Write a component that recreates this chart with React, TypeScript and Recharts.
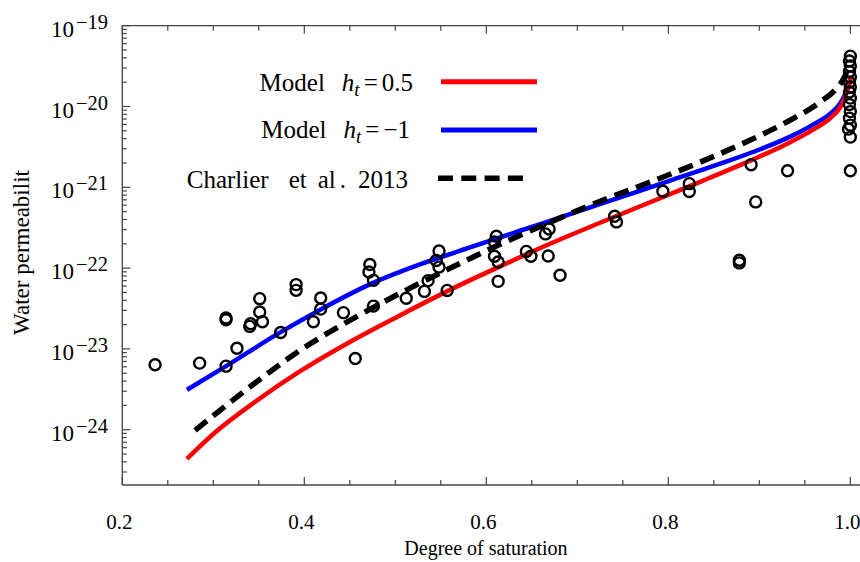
import { ComposedChart, Line, Scatter, XAxis, YAxis, Legend } from 'recharts'

// degree of saturation ticks (major every 0.2, minor every 0.05)
const satTicks = [0.2, 0.25, 0.3, 0.35, 0.4, 0.45, 0.5, 0.55, 0.6, 0.65, 0.7, 0.75, 0.8, 0.85, 0.9, 0.95, 1.0]
const satDomain = [0.2, 1.015]

// log axis: decades and minor mantissas
const decades = [-25, -24, -23, -22, -21, -20, -19]
const mantissas = [1, 2, 3, 4, 5, 6, 7, 8, 9]
const permMin = 2.07e-25
const permMax = 1e-19

// Model h_t = 0.5  [saturation, permeability]
const modelHalf = [
  [0.271, 4.36e-25], [0.3, 8.85e-25], [0.348, 2.3e-24], [0.395, 5.26e-24], [0.45, 1.22e-23],
  [0.505, 2.6e-23], [0.56, 5.38e-23], [0.615, 1.05e-22], [0.67, 2.0e-22], [0.725, 3.64e-22],
  [0.78, 6.53e-22], [0.835, 1.17e-21], [0.89, 2.14e-21], [0.934, 3.62e-21], [0.961, 5.32e-21],
  [0.978, 7.18e-21], [0.989, 9.84e-21], [0.995, 1.38e-20], [0.9986, 1.9e-20], [1.0, 2.25e-20],
]

// Model h_t = -1
const modelMinusOne = [
  [0.271, 3.12e-24], [0.314, 6.12e-24], [0.373, 1.59e-23], [0.417, 3.04e-23], [0.472, 6.3e-23],
  [0.527, 1.11e-22], [0.582, 1.8e-22], [0.637, 2.9e-22], [0.692, 4.65e-22], [0.747, 7.5e-22],
  [0.802, 1.21e-21], [0.857, 1.96e-21], [0.901, 2.96e-21], [0.934, 4.24e-21], [0.961, 6.14e-21],
  [0.978, 8.17e-21], [0.989, 1.1e-20], [0.995, 1.47e-20], [0.9986, 1.84e-20], [1.0, 2.12e-20],
]

// Charlier et al. 2013
const charlier = [
  [0.28, 9.8e-25], [0.348, 3.95e-24], [0.395, 9.57e-24], [0.45, 2.25e-23], [0.505, 4.87e-23],
  [0.56, 9.95e-23], [0.615, 1.97e-22], [0.67, 3.69e-22], [0.725, 6.72e-22], [0.78, 1.16e-21],
  [0.835, 2.05e-21], [0.89, 3.84e-21], [0.934, 6.79e-21], [0.967, 1.14e-20], [0.983, 1.6e-20],
  [0.994, 2.38e-20], [0.9975, 2.99e-20],
]

// measured values
const measured = [
  [0.236, 6.37e-24], [0.285, 6.67e-24], [0.314, 6.12e-24], [0.314, 2.41e-23], [0.314, 2.29e-23],
  [0.326, 1.02e-23], [0.341, 2.05e-23], [0.34, 1.9e-23], [0.354, 2.17e-23], [0.351, 2.86e-23],
  [0.351, 4.19e-23], [0.374, 1.6e-23], [0.391, 6.25e-23], [0.391, 5.31e-23], [0.41, 2.17e-23],
  [0.418, 4.26e-23], [0.418, 3.11e-23], [0.443, 2.81e-23], [0.456, 7.62e-24], [0.472, 1.11e-22],
  [0.471, 8.95e-23], [0.476, 7.06e-23], [0.476, 3.39e-23], [0.512, 4.24e-23], [0.532, 5.15e-23],
  [0.536, 7.0e-23], [0.545, 1.24e-22], [0.548, 1.63e-22], [0.548, 1.03e-22], [0.557, 5.3e-23],
  [0.611, 2.48e-22], [0.609, 2.11e-22], [0.609, 1.4e-22], [0.613, 1.19e-22], [0.613, 6.86e-23],
  [0.644, 1.61e-22], [0.649, 1.4e-22], [0.669, 3.05e-22], [0.665, 2.65e-22], [0.668, 1.41e-22],
  [0.681, 8.15e-23], [0.741, 4.39e-22], [0.743, 3.73e-22], [0.794, 8.95e-22], [0.823, 1.11e-21],
  [0.823, 8.87e-22], [0.878, 1.25e-22], [0.878, 1.16e-22], [0.891, 1.9e-21], [0.896, 6.6e-22],
  [0.931, 1.6e-21],
  [1.0, 4.2e-20], [0.999, 3.66e-20], [1.0, 3.17e-20], [0.999, 2.71e-20], [1.0, 2.31e-20],
  [0.999, 2.0e-20], [1.0, 1.74e-20], [0.999, 1.51e-20], [1.0, 1.27e-20], [0.999, 1.06e-20],
  [1.0, 8.65e-21], [0.999, 7.18e-21], [1.0, 5.88e-21], [0.998, 5.25e-21], [1.0, 4.18e-21],
  [1.0, 1.6e-21],
]

const toRows = (pairs: number[][]) => pairs.map(([s, k]) => ({ s, k }))

const permTicks = decades
  .flatMap((d) => mantissas.map((m) => Number(`${m}e${d}`)))
  .filter((v) => v >= permMin && v <= permMax * 1.0001)

const serif = '"Liberation Serif", "Times New Roman", serif'
const axisColor = '#444'

const SatTick = (props: any) => {
  const { x, y, payload, orientation } = props
  const v = payload.value
  const major = Math.abs(v * 5 - Math.round(v * 5)) < 1e-6
  const len = major ? 8 : 5
  const dir = orientation === 'top' ? 1 : -1
  return (
    <g>
      <line x1={x} x2={x} y1={y} y2={y + dir * len} stroke={axisColor} strokeWidth={1.2} />
      {major && orientation !== 'top' && (
        <text x={x - 3} y={y + 44} textAnchor="middle" fontFamily={serif} fontSize={21} fill="#000">
          {v.toFixed(1)}
        </text>
      )}
    </g>
  )
}

const PermTick = (props: any) => {
  const { x, y, payload } = props
  const v = payload.value
  const e = Math.round(Math.log10(v))
  const major = Math.abs(v / Number(`1e${e}`) - 1) < 1e-6
  return (
    <g>
      <line x1={x} x2={x + (major ? 8 : 4.5)} y1={y} y2={y} stroke={axisColor} strokeWidth={1.2} />
      {major && (
        <text x={108} y={y + 11} textAnchor="end" fontFamily={serif} fontSize={23} fill="#000">
          10
          <tspan dx={2} dy={-8} fontSize={20.5}>
            {'\u2212' + Math.abs(e)}
          </tspan>
        </text>
      )}
    </g>
  )
}

const Ring = (props: any) => {
  const { cx, cy } = props
  if (cx == null || cy == null) return null
  return <circle cx={cx} cy={cy} r={5.5} fill="none" stroke="#000" strokeWidth={2.4} />
}

const ModelLabel = ({ x, y, value }: { x: number; y: number; value: string }) => (
  <text x={x} y={y} textAnchor="end">
    Model
    <tspan dx={17} fontStyle="italic">h</tspan>
    <tspan fontStyle="italic" fontSize={19} dy={5}>t</tspan>
    <tspan dx={4} dy={-5}>=</tspan>
    <tspan dx={4}>{value}</tspan>
  </text>
)

const LegendBox = () => (
  <svg width={380} height={150} style={{ overflow: 'visible' }}>
    <g fontFamily={serif} fontSize={25} fill="#000">
      <ModelLabel x={233} y={40.7} value="0.5" />
      <ModelLabel x={230} y={88.3} value={'\u22121'} />
      <text x={228} y={138.3} textAnchor="end">
        Charlier
        <tspan dx={20}>et</tspan>
        <tspan dx={11}>al</tspan>
        <tspan dx={4}>.</tspan>
        <tspan dx={12}>2013</tspan>
      </text>
    </g>
    <line x1={261} x2={357} y1={31.7} y2={31.7} stroke="#ff0000" strokeWidth={5} />
    <line x1={261} x2={357} y1={80} y2={80} stroke="#0000ff" strokeWidth={5} />
    <line x1={258} x2={343} y1={128.3} y2={128.3} stroke="#000" strokeWidth={5.5} strokeDasharray="15 8.3" />
  </svg>
)

export default function App() {
  return (
    <div style={{ width: 860, height: 562, overflow: 'hidden', position: 'relative', background: '#fff' }}>
      <style>{`body{margin:0;overflow:hidden}`}</style>
      <ComposedChart width={870} height={562} margin={{ top: 24.7, right: 6, bottom: 76, left: 0 }}>
        <XAxis
          xAxisId={0}
          type="number"
          dataKey="s"
          domain={satDomain}
          allowDataOverflow
          ticks={satTicks}
          interval={0}
          height={1}
          tickSize={0}
          tickMargin={0}
          tickLine={false}
          tick={<SatTick orientation="bottom" />}
          axisLine={{ stroke: axisColor, strokeWidth: 1.3 }}
          label={{
            content: () => (
              <text x={486} y={555} textAnchor="middle" fontFamily={serif} fontSize={20} fill="#000">
                Degree of saturation
              </text>
            ),
          }}
        />
        <XAxis
          xAxisId="top"
          orientation="top"
          type="number"
          dataKey="s"
          domain={satDomain}
          allowDataOverflow
          ticks={satTicks}
          interval={0}
          height={1}
          tickSize={0}
          tickMargin={0}
          tickLine={false}
          tick={<SatTick orientation="top" />}
          axisLine={{ stroke: axisColor, strokeWidth: 1.3 }}
        />
        <YAxis
          type="number"
          scale="log"
          domain={[permMin, permMax]}
          allowDataOverflow
          ticks={permTicks}
          interval={0}
          width={122.3}
          tickSize={0}
          tickMargin={0}
          tickLine={false}
          tick={<PermTick />}
          axisLine={{ stroke: axisColor, strokeWidth: 1.3 }}
          label={{
            content: () => (
              <text
                transform="translate(28.5,252.5) rotate(-90)"
                textAnchor="middle"
                fontFamily={serif}
                fontSize={23}
                fill="#000"
              >
                Water permeabilit
              </text>
            ),
          }}
        />
        <Legend
          layout="horizontal"
          verticalAlign="middle"
          align="center"
          wrapperStyle={{ left: 180, top: 50, width: 380, height: 150 }}
          content={() => <LegendBox />}
        />
        <Line data={toRows(modelMinusOne)} dataKey="k" type="monotone" stroke="#0000ff" strokeWidth={4.5} dot={false} isAnimationActive={false} />
        <Line data={toRows(modelHalf)} dataKey="k" type="monotone" stroke="#ff0000" strokeWidth={4.5} dot={false} isAnimationActive={false} />
        <Line data={toRows(charlier)} dataKey="k" type="monotone" stroke="#000" strokeWidth={5.5} strokeDasharray="15 8" dot={false} isAnimationActive={false} />
        <Scatter data={toRows(measured)} dataKey="k" shape={<Ring />} isAnimationActive={false} />
      </ComposedChart>
    </div>
  )
}
